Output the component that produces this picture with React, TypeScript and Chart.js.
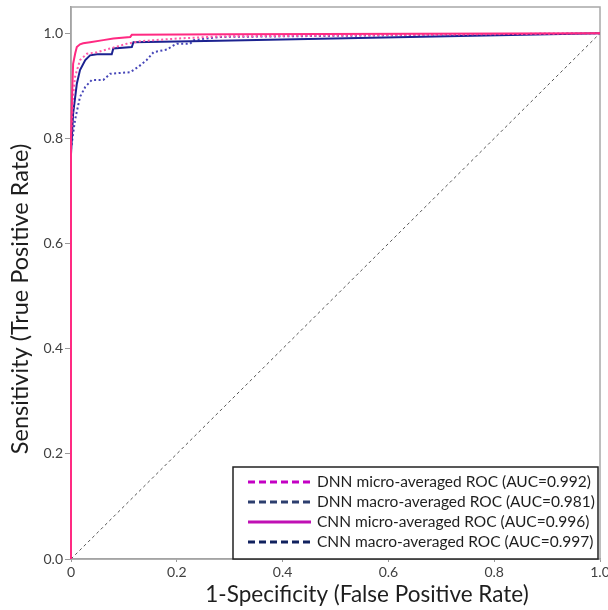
import React, { useEffect, useRef } from "react";
import { Chart, registerables } from "chart.js";

Chart.register(...registerables);

// ---- Data ----
const cnnMicroFpr = [0, 0, 0.002, 0.004, 0.008, 0.011, 0.017, 0.023, 0.036, 0.061, 0.08, 0.112, 0.115, 0.3, 1.0];
const cnnMicroTpr = [0, 0.8, 0.88, 0.942, 0.962, 0.974, 0.979, 0.981, 0.983, 0.987, 0.99, 0.993, 0.997, 0.998, 1.0];

const dnnMicroFpr = [0, 0, 0.004, 0.0076, 0.017, 0.03, 0.049, 0.074, 0.105, 0.131, 0.2, 0.28, 1.0];
const dnnMicroTpr = [0, 0.8, 0.88, 0.917, 0.949, 0.961, 0.964, 0.971, 0.98, 0.985, 0.99, 0.994, 1.0];

const cnnMacroFpr = [0, 0, 0.004, 0.011, 0.017, 0.027, 0.036, 0.049, 0.077, 0.08, 0.115, 0.118, 0.28, 1.0];
const cnnMacroTpr = [0, 0.77, 0.847, 0.904, 0.93, 0.949, 0.958, 0.96, 0.96, 0.971, 0.974, 0.983, 0.986, 1.0];

const dnnMacroFpr = [0, 0, 0.0076, 0.017, 0.027, 0.039, 0.061, 0.074, 0.112, 0.127, 0.143, 0.156, 0.181, 0.194, 0.2, 0.225, 0.232, 0.28, 1.0];
const dnnMacroTpr = [0, 0.78, 0.835, 0.879, 0.898, 0.911, 0.911, 0.923, 0.926, 0.936, 0.949, 0.964, 0.969, 0.977, 0.98, 0.98, 0.987, 0.993, 1.0];

const chanceFpr = [0, 1];
const chanceTpr = [0, 1];

const xTickValues = [0, 0.2, 0.4, 0.6, 0.8, 1.0];
const xTickLabels = ["0", "0.2", "0.4", "0.6", "0.8", "1.0"];
const yTickValues = [0, 0.2, 0.4, 0.6, 0.8, 1.0];
const yTickLabels = ["0.0", "0.2", "0.4", "0.6", "0.8", "1.0"];

const legendLabels = [
  "DNN micro-averaged ROC (AUC=0.992)",
  "DNN macro-averaged ROC (AUC=0.981)",
  "CNN micro-averaged ROC (AUC=0.996)",
  "CNN macro-averaged ROC (AUC=0.997)",
];
const legendColors = ["#c400c4", "#2c3e6e", "#c010b4", "#10215e"];
const legendDashes = [[7, 4], [7, 4], [], [7, 4]];

const xTitle = "1-Specificity (False Positive Rate)";
const yTitle = "Sensitivity (True Positive Rate)";

const FONT = "Lato, 'Open Sans', sans-serif";

const toPoints = (xs: number[], ys: number[]) => xs.map((x, i) => ({ x, y: ys[i] }));

const framePlugin = {
  id: "frame",
  beforeDatasetsDraw(chart: any) {
    const { ctx, chartArea: a } = chart;
    ctx.save();
    ctx.strokeStyle = "#a8a8a8";
    ctx.lineWidth = 1.5;
    ctx.strokeRect(a.left, a.top, a.right - a.left, a.bottom - a.top);
    ctx.restore();
  },
};

const textPlugin = {
  id: "texts",
  afterDraw(chart: any) {
    const { ctx } = chart;
    ctx.save();
    ctx.fillStyle = "#1e1e1e";
    ctx.textAlign = "center";
    ctx.textBaseline = "middle";
    ctx.font = `22.5px ${FONT}`;
    ctx.fillText(xTitle, 367, 595);
    ctx.font = `23.5px ${FONT}`;
    ctx.translate(20, 299);
    ctx.rotate(-Math.PI / 2);
    ctx.fillText(yTitle, 0, 0);
    ctx.restore();

    // legend box
    const bx = 233, by = 467, bw = 365, bh = 92;
    ctx.save();
    ctx.fillStyle = "#ffffff";
    ctx.fillRect(bx, by, bw, bh);
    ctx.strokeStyle = "#222222";
    ctx.lineWidth = 1.5;
    ctx.strokeRect(bx, by, bw, bh);
    ctx.font = `15.5px ${FONT}`;
    ctx.textAlign = "left";
    ctx.textBaseline = "middle";
    legendLabels.forEach((lab, i) => {
      const yy = by + 15 + i * 20;
      ctx.strokeStyle = legendColors[i];
      ctx.lineWidth = 3;
      ctx.setLineDash(legendDashes[i]);
      ctx.beginPath();
      ctx.moveTo(248, yy);
      ctx.lineTo(311, yy);
      ctx.stroke();
      ctx.setLineDash([]);
      ctx.fillStyle = "#1e1e1e";
      ctx.fillText(lab, 317, yy);
    });
    ctx.restore();
  },
};

const zeroPad = (s: any) => {
  s.paddingTop = 0;
  s.paddingBottom = 0;
  s.paddingLeft = 0;
  s.paddingRight = 0;
};

export default function App() {
  const ref = useRef<HTMLCanvasElement | null>(null);

  useEffect(() => {
    if (!ref.current) return;
    const chart = new Chart(ref.current, {
      type: "line",
      data: {
        datasets: [
          {
            label: "CNN micro",
            data: toPoints(cnnMicroFpr, cnnMicroTpr),
            borderColor: "#ff2a82",
            borderWidth: 2,
            pointRadius: 0,
            tension: 0,
            clip: 4,
          } as any,
          {
            label: "DNN micro",
            data: toPoints(dnnMicroFpr, dnnMicroTpr),
            borderColor: "#ff5aa8",
            borderWidth: 2,
            borderDash: [2, 2.5],
            pointRadius: 0,
            tension: 0,
            clip: 4,
          },
          {
            label: "CNN macro",
            data: toPoints(cnnMacroFpr, cnnMacroTpr),
            borderColor: "#1c2290",
            borderWidth: 2,
            pointRadius: 0,
            tension: 0,
            clip: 4,
          },
          {
            label: "DNN macro",
            data: toPoints(dnnMacroFpr, dnnMacroTpr),
            borderColor: "#4646b8",
            borderWidth: 2,
            borderDash: [2, 2.5],
            pointRadius: 0,
            tension: 0,
            clip: 4,
          },
          {
            label: "chance",
            data: toPoints(chanceFpr, chanceTpr),
            borderColor: "#555555",
            borderWidth: 1,
            borderDash: [3, 3],
            pointRadius: 0,
            tension: 0,
          },
        ],
      },
      options: {
        animation: false,
        responsive: false,
        layout: { padding: { top: 7, right: 8, left: 0, bottom: 0 } },
        plugins: {
          legend: { display: false },
          tooltip: { enabled: false },
        },
        scales: {
          x: {
            type: "linear",
            min: 0,
            max: 1,
            afterBuildTicks: (s: any) => {
              s.ticks = xTickValues.map((v) => ({ value: v }));
            },
            afterFit: (s: any) => {
              s.height = 51;
              zeroPad(s);
            },
            ticks: {
              callback: (_v: any, i: number) => xTickLabels[i],
              color: "#404040",
              font: { family: FONT, size: 14 },
              padding: 2,
              maxRotation: 0,
            },
            grid: { drawOnChartArea: false, drawTicks: true, tickLength: 3, color: "#999" },
            border: { display: true, color: "#999", width: 1.5 },
          },
          y: {
            type: "linear",
            min: 0,
            max: 1.05,
            afterBuildTicks: (s: any) => {
              s.ticks = yTickValues.map((v) => ({ value: v }));
            },
            afterFit: (s: any) => {
              s.width = 71;
              zeroPad(s);
            },
            ticks: {
              callback: (_v: any, i: number) => yTickLabels[i],
              color: "#404040",
              font: { family: FONT, size: 14 },
              padding: 2,
            },
            grid: { drawOnChartArea: false, drawTicks: true, tickLength: 6, color: "#999" },
            border: { display: true, color: "#999", width: 1.5 },
          },
        },
      },
      plugins: [framePlugin, textPlugin],
    });
    return () => chart.destroy();
  }, []);

  return (
    <div style={{ position: "absolute", left: 0, top: 0, width: 608, height: 610, background: "#fff" }}>
      <canvas ref={ref} width={608} height={610} style={{ width: 608, height: 610 }} />
    </div>
  );
}
